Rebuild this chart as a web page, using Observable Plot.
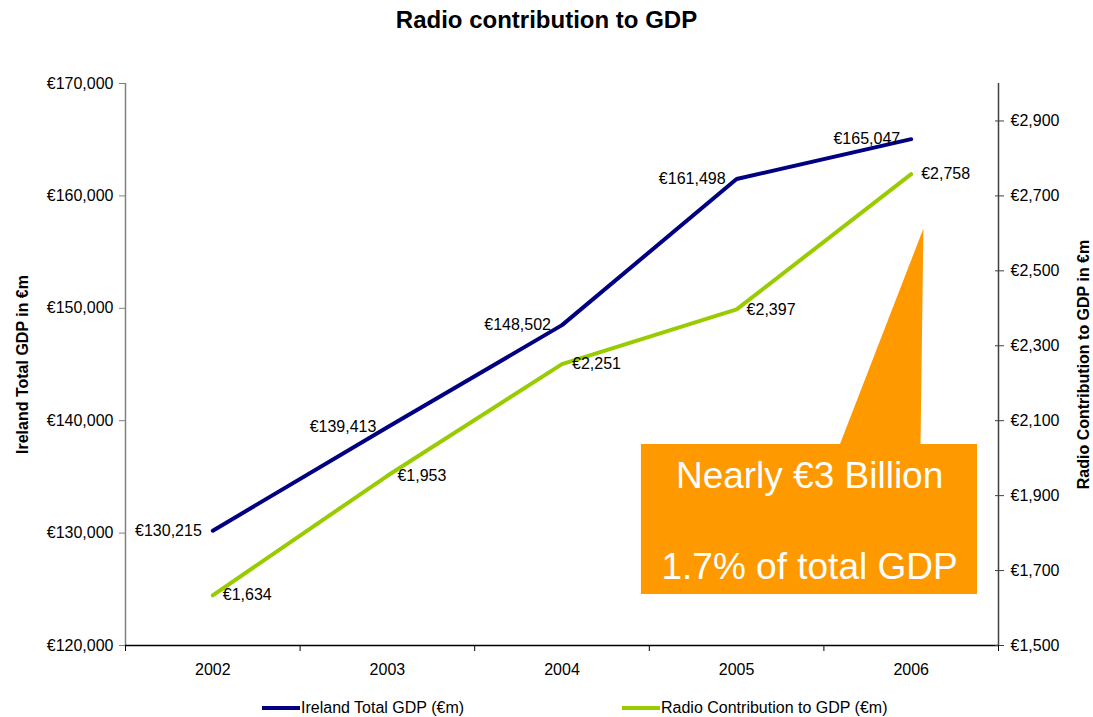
<!DOCTYPE html>
<html>
<head>
<meta charset="utf-8">
<script src="https://cdn.jsdelivr.net/npm/d3@7"></script>
<script src="https://cdn.jsdelivr.net/npm/@observablehq/plot@0.6"></script>
<style>
  html, body { margin: 0; padding: 0; background: #fff; }
  body { width: 1093px; height: 717px; position: relative; font-family: "Liberation Sans", Arial, sans-serif; overflow: hidden; }
  #title { height: 40px; line-height: 40px; text-align: center; font-size: 24px; font-weight: bold; color: #000; }
  #chart svg { display: block; overflow: visible; }
  #legend { position: absolute; left: 0; top: 690px; width: 1093px; height: 27px; font-size: 16px; color: #000; }
  .item { position: absolute; top: 8px; height: 20px; line-height: 20px; white-space: nowrap; }
  .sw { display: inline-block; width: 38px; height: 4px; vertical-align: middle; margin-right: 1px; position: relative; top: -1px; }
</style>
</head>
<body>
<div id="title">Radio contribution to GDP</div>
<div id="chart"></div>
<div id="legend"></div>
<script>
// ---- data ----
const years = [2002, 2003, 2004, 2005, 2006];
const irelandGDP = [130215, 139413, 148502, 161498, 165047];
const radioGDP = [1634, 1953, 2251, 2397, 2758];
const leftTicks = [120000, 130000, 140000, 150000, 160000, 170000];
const rightTicks = [1500, 1700, 1900, 2100, 2300, 2500, 2700, 2900];
const leftDomain = [120000, 170000];
const rightDomain = [1500, 3000];
const seriesNames = ["Ireland Total GDP (€m)", "Radio Contribution to GDP (€m)"];
const axisTitles = ["Ireland Total GDP in €m", "Radio Contribution to GDP in €m"];
const calloutLines = ["Nearly €3 Billion", "1.7% of total GDP"];
// callout shape in data units (x in years, y on the left-axis scale)
const calloutBox = [{x1: 2004.455, x2: 2006.38, y1: 124537, y2: 137883}];
const calloutPointer = [
  {x: 2005.584, y: 137600},
  {x: 2006.053, y: 137600},
  {x: 2006.07, y: 157100}
];
const calloutText = [
  {x: 2005.418, y: 135036, text: calloutLines[0]},
  {x: 2005.418, y: 126940, text: calloutLines[1]}
];

const colors = ["#000080", "#99CC00"];
const orange = "#FF9900";

const k = (leftDomain[1] - leftDomain[0]) / (rightDomain[1] - rightDomain[0]);
const toLeft = v => leftDomain[0] + (v - rightDomain[0]) * k;
const fromLeft = v => rightDomain[0] + (v - leftDomain[0]) / k;
const fmt = d3.format(",");
const euro = v => "€" + fmt(Math.round(v));

const gdpRows = years.map((year, i) => ({year, value: irelandGDP[i], label: euro(irelandGDP[i])}));
const radioRows = years.map((year, i) => ({year, value: toLeft(radioGDP[i]), label: euro(radioGDP[i])}));
const xBounds = [2001.5, 2002.5, 2003.5, 2004.5, 2005.5, 2006.5];

const font = "Liberation Sans, Arial, sans-serif";

const chart = Plot.plot({
  width: 1093,
  height: 650,
  marginLeft: 125,
  marginRight: 95,
  marginTop: 43,
  marginBottom: 45,
  x: {domain: [xBounds[0], xBounds[xBounds.length - 1]]},
  y: {domain: leftDomain},
  style: {fontFamily: font, fontSize: "16px", color: "#000", background: "#fff", overflow: "visible"},
  marks: [
    // callout
    Plot.rect(calloutBox, {x1: "x1", x2: "x2", y1: "y1", y2: "y2", fill: orange}),
    Plot.line(calloutPointer, {x: "x", y: "y", fill: orange, stroke: "none"}),
    Plot.text(calloutText, {x: "x", y: "y", text: "text", fill: "#fff", fontSize: 37}),
    // axes lines
    Plot.ruleX([xBounds[0]], {stroke: "#808080", strokeWidth: 1.5}),
    Plot.ruleX([xBounds[xBounds.length - 1]], {stroke: "#404040", strokeWidth: 1.5}),
    Plot.ruleY([leftDomain[0]], {stroke: "#000", strokeWidth: 1.5}),
    // axes
    Plot.axisY(leftTicks, {anchor: "left", tickSize: 6, tickPadding: 6, stroke: "#808080", tickFormat: d => euro(d), fontSize: 16, label: null}),
    Plot.axisY(rightTicks.map(toLeft), {anchor: "right", tickSize: 9, tickPadding: 7, dx: -4, stroke: "#404040", tickFormat: d => euro(fromLeft(d)), fontSize: 16, label: null}),
    Plot.axisX(xBounds, {anchor: "bottom", tickSize: 6, tickFormat: () => "", stroke: "#000", label: null}),
    Plot.axisX(years, {anchor: "bottom", tickSize: 0, tickPadding: 18, tickFormat: d => String(d), fontSize: 16, label: null}),
    Plot.text([axisTitles[0]], {frameAnchor: "left", textAnchor: "middle", lineAnchor: "middle", dx: -103, rotate: -90, fontWeight: "bold", fontSize: 16}),
    Plot.text([axisTitles[1]], {frameAnchor: "right", textAnchor: "middle", lineAnchor: "middle", dx: 85, rotate: -90, fontWeight: "bold", fontSize: 16}),
    // series
    Plot.line(gdpRows, {x: "year", y: "value", stroke: colors[0], strokeWidth: 4, strokeLinejoin: "miter"}),
    Plot.line(radioRows, {x: "year", y: "value", stroke: colors[1], strokeWidth: 4, strokeLinejoin: "miter"}),
    Plot.text(gdpRows, {x: "year", y: "value", text: "label", textAnchor: "end", dx: -11, fontSize: 16, fill: "#000"}),
    Plot.text(radioRows, {x: "year", y: "value", text: "label", textAnchor: "start", dx: 10, fontSize: 16, fill: "#000"})
  ]
});
document.getElementById("chart").appendChild(chart);

// legend
const legend = document.getElementById("legend");
const legendLeft = [262, 622];
seriesNames.forEach((name, i) => {
  const item = document.createElement("div");
  item.className = "item";
  item.style.left = legendLeft[i] + "px";
  const sw = document.createElement("span");
  sw.className = "sw";
  sw.style.background = colors[i];
  item.appendChild(sw);
  item.appendChild(document.createTextNode(name));
  legend.appendChild(item);
});
</script>
</body>
</html>
